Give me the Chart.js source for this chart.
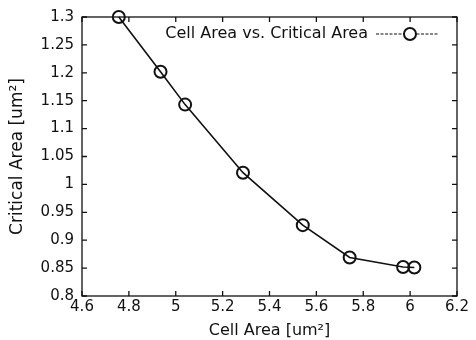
<!DOCTYPE html>
<html>
<head>
<meta charset="utf-8">
<script src="https://cdn.jsdelivr.net/npm/chart.js@4.4.1/dist/chart.umd.min.js"></script>
<style>
  body { margin: 0; background: #fff; }
  canvas { display: block; }
</style>
</head>
<body>
<canvas id="myChart" width="476" height="340"></canvas>
<script>
// values
const cellArea = [4.757, 4.935, 5.04, 5.287, 5.542, 5.742, 5.97, 6.018];
const criticalArea = [1.3, 1.202, 1.143, 1.021, 0.927, 0.869, 0.852, 0.851];
const seriesLabel = "Cell Area vs. Critical Area";
const xTicks = [4.6, 4.8, 5, 5.2, 5.4, 5.6, 5.8, 6, 6.2];
const yTicks = [0.8, 0.85, 0.9, 0.95, 1, 1.05, 1.1, 1.15, 1.2, 1.25, 1.3];

const ink = '#111';
const fam = '"DejaVu Sans", sans-serif';

function fmt(v) {
    return String(Number(v.toFixed(2)));
}

// box around the plot + ticks pointing inward on all four sides
const frameTicks = {
    id: 'frameTicks',
    afterDatasetsDraw(chart) {
        const ctx = chart.ctx;
        const a = chart.chartArea;
        const xs = chart.scales.x, ys = chart.scales.y;
        const len = 5;
        ctx.save();
        ctx.strokeStyle = ink;
        ctx.lineWidth = 1.3;
        ctx.strokeRect(a.left, a.top, a.right - a.left, a.bottom - a.top);
        ctx.beginPath();
        xTicks.forEach(function (t) {
            const px = xs.getPixelForValue(t);
            ctx.moveTo(px, a.bottom); ctx.lineTo(px, a.bottom - len);
            ctx.moveTo(px, a.top); ctx.lineTo(px, a.top + len);
        });
        yTicks.forEach(function (t) {
            const py = ys.getPixelForValue(t);
            ctx.moveTo(a.left, py); ctx.lineTo(a.left + len, py);
            ctx.moveTo(a.right, py); ctx.lineTo(a.right - len, py);
        });
        ctx.stroke();

        // legend, gnuplot style: text then line sample with the marker
        const ds = chart.data.datasets[0];
        const ly = a.top + 17;
        ctx.font = '16px ' + fam;
        ctx.fillStyle = ink;
        ctx.textAlign = 'right';
        ctx.textBaseline = 'middle';
        ctx.fillText(ds.label, a.right - 89, ly);
        ctx.beginPath();
        ctx.setLineDash([3, 1.5]);
        ctx.lineWidth = 1.2;
        ctx.moveTo(a.right - 81, ly);
        ctx.lineTo(a.right - 18, ly);
        ctx.stroke();
        ctx.setLineDash([]);
        ctx.beginPath();
        ctx.lineWidth = ds.pointBorderWidth;
        ctx.fillStyle = '#fff';
        ctx.arc(a.right - 47, ly, ds.pointRadius, 0, Math.PI * 2);
        ctx.fill();
        ctx.stroke();
        ctx.restore();
    }
};

const data = {
    datasets: [{
        label: seriesLabel,
        data: cellArea.map(function (x, i) { return { x: x, y: criticalArea[i] }; }),
        borderColor: ink,
        borderWidth: 1.6,
        pointRadius: 6,
        pointHoverRadius: 6,
        pointBorderWidth: 2,
        pointBorderColor: ink,
        pointBackgroundColor: 'rgba(0,0,0,0)',
        showLine: true,
        tension: 0,
        clip: false
    }]
};

const config = {
    type: 'scatter',
    data: data,
    options: {
        responsive: false,
        animation: false,
        layout: {
            padding: { top: 17, right: 19, left: 0, bottom: 0 }
        },
        scales: {
            x: {
                type: 'linear',
                min: 4.6,
                max: 6.2,
                afterFit: function (s) { s.height = 44; },
                afterBuildTicks: function (s) { s.ticks = xTicks.map(function (v) { return { value: v }; }); },
                grid: { display: false, drawTicks: false },
                border: { display: false },
                ticks: {
                    color: ink,
                    font: { family: fam, size: 15 },
                    padding: 2,
                    maxRotation: 0,
                    callback: function (v) { return fmt(v); }
                },
                title: {
                    display: true,
                    text: 'Cell Area [um²]',
                    color: ink,
                    font: { family: fam, size: 16 },
                    padding: { top: 0, bottom: 0 }
                }
            },
            y: {
                type: 'linear',
                min: 0.8,
                max: 1.3,
                afterFit: function (s) { s.width = 82; },
                afterBuildTicks: function (s) { s.ticks = yTicks.map(function (v) { return { value: v }; }); },
                grid: { display: false, drawTicks: false },
                border: { display: false },
                ticks: {
                    color: ink,
                    font: { family: fam, size: 15 },
                    padding: 8,
                    callback: function (v) { return fmt(v); }
                },
                title: {
                    display: true,
                    text: 'Critical Area [um²]',
                    color: ink,
                    font: { family: fam, size: 17 },
                    padding: { top: 7, bottom: 0 }
                }
            }
        },
        plugins: {
            legend: { display: false },
            tooltip: { enabled: false }
        }
    },
    plugins: [frameTicks]
};

var myChart = new Chart(document.getElementById('myChart'), config);
</script>
</body>
</html>
